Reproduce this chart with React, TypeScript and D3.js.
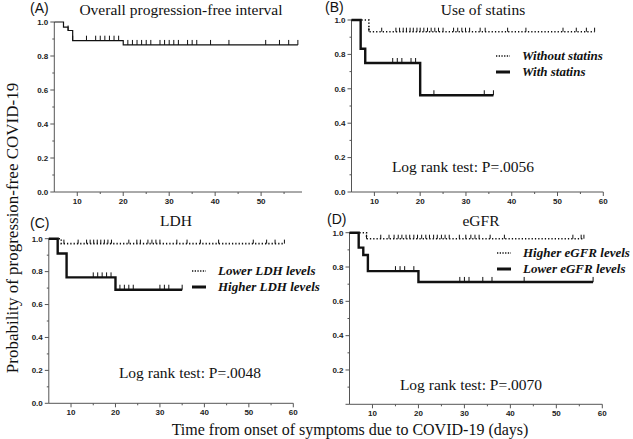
import React from 'react';
import * as d3 from 'd3';

// ---------- data ----------
const xTickValues = [10, 20, 30, 40, 50, 60];
const xMinorValues = [15, 25, 35, 45, 55];
const yTickValues = [0, 0.2, 0.4, 0.6, 0.8, 1.0];
const yTickValuesD = [0.2, 0.4, 0.6, 0.8, 1.0];
const yMinorValues = [0.1, 0.3, 0.5, 0.7, 0.9];

// (A) overall
const overallEventDays = [7, 8, 9, 20];
const overallSurvival = [0.97, 0.95, 0.89, 0.865];
const overallCensorDays = [8, 9, 12, 14, 15, 16, 17, 18, 19, 21, 22, 23, 24, 25, 26, 28, 29, 30, 31, 32, 34, 35, 36, 39, 43, 51, 54, 56, 58];
const overallEndDay = 58;

// (B) statins
const withoutStatinsEventDays = [8.8];
const withoutStatinsSurvival = [0.932];
const withoutStatinsCensorDays = [8.8, 11.6, 14.7, 15.5, 16.3, 17.0, 17.8, 18.5, 19.3, 20.0, 20.8, 21.6, 22.4, 23.2, 24.0, 25.0, 27.3, 28.2, 29.1, 29.9, 30.8, 33.1, 34.2, 39.1, 43.1, 51.2, 54.1, 56.3, 58.1];
const withoutStatinsEndDay = 58.1;
const withStatinsEventDays = [7, 8, 20];
const withStatinsSurvival = [0.833, 0.75, 0.5625];
const withStatinsCensorDays = [14, 15, 16, 18, 19, 23, 34, 36];
const withStatinsEndDay = 36;

// (C) LDH
const lowerLdhEventDays = [7.8];
const lowerLdhSurvival = [0.97];
const lowerLdhCensorDays = [8.4, 11.6, 13.5, 14.3, 15.1, 15.9, 16.7, 17.5, 18.3, 19.1, 23, 24.8, 25.6, 27.3, 28.2, 29.1, 30, 33.8, 36.1, 39.1, 43.2, 51, 54, 55.9, 58];
const lowerLdhEndDay = 58;
const higherLdhEventDays = [7, 9, 20];
const higherLdhSurvival = [0.91, 0.765, 0.69];
const higherLdhCensorDays = [15, 16, 17, 18, 19, 21, 22, 23, 24, 30, 31, 32, 35];
const higherLdhEndDay = 35;

// (D) eGFR
const higherEgfrEventDays = [8.7];
const higherEgfrSurvival = [0.965];
const higherEgfrCensorDays = [8.7, 11.8, 13.6, 14.7, 15.6, 16.4, 17.3, 18.1, 19.0, 19.8, 20.7, 21.6, 22.4, 23.3, 24.1, 25.0, 25.8, 26.7, 28.9, 30.3, 31.4, 32.3, 33.2, 35.6, 38.7, 53.6, 55.4, 56];
const higherEgfrEndDay = 56;
const lowerEgfrEventDays = [7, 8, 9, 20];
const lowerEgfrSurvival = [0.913, 0.87, 0.776, 0.713];
const lowerEgfrCensorDays = [15, 16, 17, 19, 29, 30, 31, 34, 36, 43, 58];
const lowerEgfrEndDay = 58;

// ---------- rendering ----------
type Curve = {
  events: number[];
  surv: number[];
  censors: number[];
  end: number;
  dotted: boolean;
  width: number;
  tick: number;
};

type Legend = { x: number; y: number; labels: string[]; styles: boolean[] };

type PanelCfg = {
  letter: string;
  letterX: number;
  letterY: number;
  title: string;
  titleX: number;
  titleY: number;
  xDomain: [number, number];
  xRange: [number, number];
  yRange: [number, number];
  xTicks: number[];
  yTicks: number[];
  curves: Curve[];
  legend?: Legend;
  logRank?: { text: string; x: number; y: number };
};

const SANS = 'Liberation Sans, Arial, sans-serif';
const SERIF = 'Liberation Serif, Times New Roman, serif';

function survAt(c: Curve, t: number) {
  let s = 1;
  for (let i = 0; i < c.events.length; i++) if (c.events[i] <= t + 1e-9) s = c.surv[i];
  return s;
}

function Panel({ cfg }: { cfg: PanelCfg }) {
  const xs = d3.scaleLinear().domain(cfg.xDomain).range(cfg.xRange);
  const ys = d3.scaleLinear().domain([0, 1]).range(cfg.yRange);
  const x0 = cfg.xRange[0];
  const y0 = cfg.yRange[0];
  const axisColor = '#555';
  const line = d3
    .line<[number, number]>()
    .x((d) => xs(d[0]))
    .y((d) => ys(d[1]))
    .curve(d3.curveStepAfter);

  return (
    <g>
      {/* axes */}
      <line x1={x0} x2={x0} y1={y0} y2={ys(1)} stroke={axisColor} strokeWidth={1} />
      <line x1={x0} x2={cfg.xRange[1]} y1={y0} y2={y0} stroke={axisColor} strokeWidth={1} />
      {yTickValues.map((v) => (
        <line key={'yt' + v} x1={x0 - 4} x2={x0} y1={ys(v)} y2={ys(v)} stroke={axisColor} strokeWidth={1} />
      ))}
      {yMinorValues.map((v) => (
        <line key={'ym' + v} x1={x0 - 2} x2={x0} y1={ys(v)} y2={ys(v)} stroke={axisColor} strokeWidth={1} />
      ))}
      {cfg.yTicks.map((v) => (
        <text key={'yl' + v} x={x0 - 6} y={ys(v)} dy="0.35em" textAnchor="end" fontFamily={SANS} fontSize={8} fontWeight="bold" fill="#222">
          {d3.format('.1f')(v)}
        </text>
      ))}
      {cfg.xTicks.map((v) => (
        <g key={'xt' + v}>
          <line x1={xs(v)} x2={xs(v)} y1={y0} y2={y0 + 4} stroke={axisColor} strokeWidth={1} />
          <text x={xs(v)} y={y0 + 12} textAnchor="middle" fontFamily={SANS} fontSize={8} fontWeight="bold" fill="#222">
            {v}
          </text>
        </g>
      ))}
      {xMinorValues.filter((v) => v < cfg.xDomain[1]).map((v) => (
        <line key={'xm' + v} x1={xs(v)} x2={xs(v)} y1={y0} y2={y0 + 2} stroke={axisColor} strokeWidth={1} />
      ))}

      {/* curves */}
      {cfg.curves.map((c, i) => {
        const pts: [number, number][] = [[cfg.xDomain[0], 1]];
        c.events.forEach((t, k) => pts.push([t, c.surv[k]]));
        pts.push([c.end, c.surv[c.surv.length - 1]]);
        return (
          <g key={'c' + i}>
            <path
              d={line(pts) || ''}
              fill="none"
              stroke="#111"
              strokeWidth={c.width}
              strokeDasharray={c.dotted ? '1.3 2' : undefined}
            />
            {c.censors.map((t, k) => {
              const s = survAt(c, t);
              return (
                <line key={k} x1={xs(t)} x2={xs(t)} y1={ys(s)} y2={ys(s) - c.tick} stroke="#111" strokeWidth={1} />
              );
            })}
          </g>
        );
      })}

      {/* titles */}
      <text x={cfg.letterX} y={cfg.letterY} fontFamily={SANS} fontSize={14} fill="#111">
        {cfg.letter}
      </text>
      <text x={cfg.titleX} y={cfg.titleY} textAnchor="middle" fontFamily={SERIF} fontSize={15.5} fill="#111">
        {cfg.title}
      </text>

      {cfg.legend && (
        <g>
          {cfg.legend.labels.map((lab, k) => {
            const ly = cfg.legend!.y + k * 16;
            const dotted = cfg.legend!.styles[k];
            return (
              <g key={lab}>
                <line
                  x1={cfg.legend!.x}
                  x2={cfg.legend!.x + 14}
                  y1={ly - 4}
                  y2={ly - 4}
                  stroke="#111"
                  strokeWidth={dotted ? 1.6 : 3}
                  strokeDasharray={dotted ? '1.3 1.4' : undefined}
                />
                <text x={cfg.legend!.x + 26} y={ly} fontFamily={SERIF} fontSize={13} fontWeight="bold" fontStyle="italic" fill="#111">
                  {lab}
                </text>
              </g>
            );
          })}
        </g>
      )}
      {cfg.logRank && (
        <text x={cfg.logRank.x} y={cfg.logRank.y} textAnchor="middle" fontFamily={SERIF} fontSize={15.5} fill="#111">
          {cfg.logRank.text}
        </text>
      )}
    </g>
  );
}

const mk = (events: number[], surv: number[], censors: number[], end: number, dotted: boolean, width: number, tick: number): Curve => ({
  events,
  surv,
  censors,
  end,
  dotted,
  width,
  tick,
});

const panels: PanelCfg[] = [
  {
    letter: '(A)',
    letterX: 30,
    letterY: 13,
    title: 'Overall progression-free interval',
    titleX: 181,
    titleY: 15,
    xDomain: [5, 58.9],
    xRange: [54.3, 302],
    yRange: [192, 22],
    xTicks: xTickValues.filter((v) => v <= 50),
    yTicks: yTickValues,
    curves: [mk(overallEventDays, overallSurvival, overallCensorDays, overallEndDay, false, 1.2, 5)],
  },
  {
    letter: '(B)',
    letterX: 325,
    letterY: 12,
    title: 'Use of statins',
    titleX: 483,
    titleY: 15,
    xDomain: [5, 60],
    xRange: [351.5, 603.3],
    yRange: [192, 20],
    xTicks: xTickValues,
    yTicks: yTickValues,
    curves: [
      mk(withoutStatinsEventDays, withoutStatinsSurvival, withoutStatinsCensorDays, withoutStatinsEndDay, true, 1.6, 4),
      mk(withStatinsEventDays, withStatinsSurvival, withStatinsCensorDays, withStatinsEndDay, false, 2.4, 5),
    ],
    legend: { x: 496, y: 60, labels: ['Without statins', 'With statins'], styles: [true, false] },
    logRank: { text: 'Log rank test: P=.0056', x: 463, y: 172 },
  },
  {
    letter: '(C)',
    letterX: 30,
    letterY: 228,
    title: 'LDH',
    titleX: 176,
    titleY: 226,
    xDomain: [5, 60],
    xRange: [48.8, 293.3],
    yRange: [403.3, 238.7],
    xTicks: xTickValues,
    yTicks: yTickValues,
    curves: [
      mk(lowerLdhEventDays, lowerLdhSurvival, lowerLdhCensorDays, lowerLdhEndDay, true, 1.6, 4),
      mk(higherLdhEventDays, higherLdhSurvival, higherLdhCensorDays, higherLdhEndDay, false, 2.4, 5),
    ],
    legend: { x: 192, y: 275, labels: ['Lower LDH levels', 'Higher LDH levels'], styles: [true, false] },
    logRank: { text: 'Log rank test: P=.0048', x: 190, y: 378 },
  },
  {
    letter: '(D)',
    letterX: 327,
    letterY: 224,
    title: 'eGFR',
    titleX: 481,
    titleY: 226,
    xDomain: [5, 60],
    xRange: [349.5, 602.3],
    yRange: [404.3, 232.7],
    xTicks: xTickValues,
    yTicks: yTickValuesD,
    curves: [
      mk(higherEgfrEventDays, higherEgfrSurvival, higherEgfrCensorDays, higherEgfrEndDay, true, 1.6, 4),
      mk(lowerEgfrEventDays, lowerEgfrSurvival, lowerEgfrCensorDays, lowerEgfrEndDay, false, 2.4, 5),
    ],
    legend: { x: 497, y: 257, labels: ['Higher eGFR levels', 'Lower eGFR levels'], styles: [true, false] },
    logRank: { text: 'Log rank test: P=.0070', x: 471, y: 390 },
  },
];

export default function App() {
  return (
    <svg width={633} height={439} style={{ position: 'absolute', left: 0, top: 0, background: '#fff' }}>
      <rect x={0} y={0} width={633} height={439} fill="#fff" />
      {panels.map((p) => (
        <Panel key={p.letter} cfg={p} />
      ))}
      <text
        transform="translate(18,228) rotate(-90)"
        textAnchor="middle"
        fontFamily={SERIF}
        fontSize={17}
        fill="#111"
      >
        Probability of progression-free COVID-19
      </text>
      <text x={350} y={435} textAnchor="middle" fontFamily={SERIF} fontSize={16} fill="#111">
        Time from onset of symptoms due to COVID-19 (days)
      </text>
    </svg>
  );
}
